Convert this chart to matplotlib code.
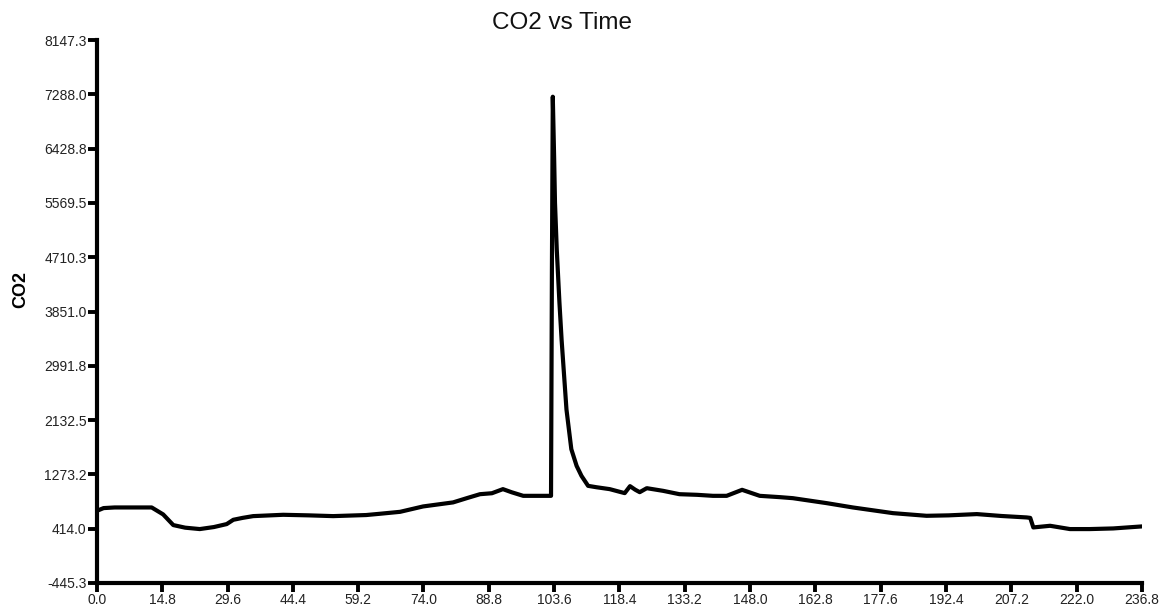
import numpy as np
import matplotlib.pyplot as plt

plt.rcParams['font.family'] = ['Liberation Sans', 'DejaVu Sans']

# valores
tempo = [0.0, 1.5, 4.0, 8.0, 12.4, 15.0, 17.3, 20.0, 23.3, 26.5, 29.4, 30.9, 33.0,
         35.4, 42.2, 48.0, 53.5, 61.0, 64.1, 68.7, 73.9, 80.7, 83.8, 86.8, 89.5,
         92.0, 94.0, 96.6, 100.0, 102.9, 103.1, 103.3, 103.6, 103.8, 104.2, 104.8,
         105.3, 106.4, 107.5, 108.7, 109.8, 111.3, 113.2, 116.2, 118.5, 119.6,
         120.8, 122.0, 123.0, 124.6, 128.3, 132.0, 136.0, 139.6, 142.7, 146.2,
         150.2, 154.8, 157.7, 165.4, 171.3, 180.4, 188.0, 193.0, 199.4, 205.0,
         210.7, 211.5, 212.2, 216.0, 220.5, 225.0, 230.3, 236.8]
co2 = [697, 740, 750, 750, 750, 640, 471, 430, 408, 440, 487, 555, 585,
       613, 634, 625, 613, 630, 650, 681, 766, 830, 897, 960, 975,
       1040, 990, 934, 934, 934, 4500, 7250, 6300, 5572, 4832, 4000,
       3400, 2300, 1672, 1408, 1250, 1092, 1070, 1040, 997, 977,
       1087, 1030, 992, 1055, 1013, 960, 950, 934, 934, 1029,
       934, 913, 897, 818, 750, 660, 618, 625, 645, 615,
       592, 585, 434, 460, 408, 408, 418, 450]

yticks = [-445.3, 414.0, 1273.2, 2132.5, 2991.8, 3851.0, 4710.3, 5569.5,
          6428.8, 7288.0, 8147.3]
xticks = [0.0, 14.8, 29.6, 44.4, 59.2, 74.0, 88.8, 103.6, 118.4, 133.2,
          148.0, 162.8, 177.6, 192.4, 207.2, 222.0, 236.8]

fig = plt.figure(figsize=(11.64, 6.12), dpi=100)
ax = fig.add_axes([0.0833, 0.0474, 0.8977, 0.8872])
ax.plot(tempo, co2, color='black', lw=3, solid_joinstyle='round',
        solid_capstyle='round')

ax.set_xlim(0, 236.8)
ax.set_ylim(-445.3, 8147.3)
ax.set_xticks(xticks)
ax.set_xticklabels(['%.1f' % v for v in xticks])
ax.set_yticks(yticks)
ax.set_yticklabels(['%.1f' % v for v in yticks])
ax.tick_params(width=2.8, length=6.5, labelsize=10, pad=1, labelcolor='#222222')

for s in ['top', 'right']:
    ax.spines[s].set_visible(False)
for s in ['left', 'bottom']:
    ax.spines[s].set_linewidth(3)

# rótulo e título
fig.text(21 / 1164, 1 - 289 / 612, 'CO2', rotation=90, fontweight='bold',
         fontsize=13, ha='center', va='center')
fig.text(562 / 1164, 1 - 23 / 612, 'CO2 vs Time', fontsize=17.5,
         ha='center', va='center', color='#111111')

fig.savefig('out.png', dpi=100)
